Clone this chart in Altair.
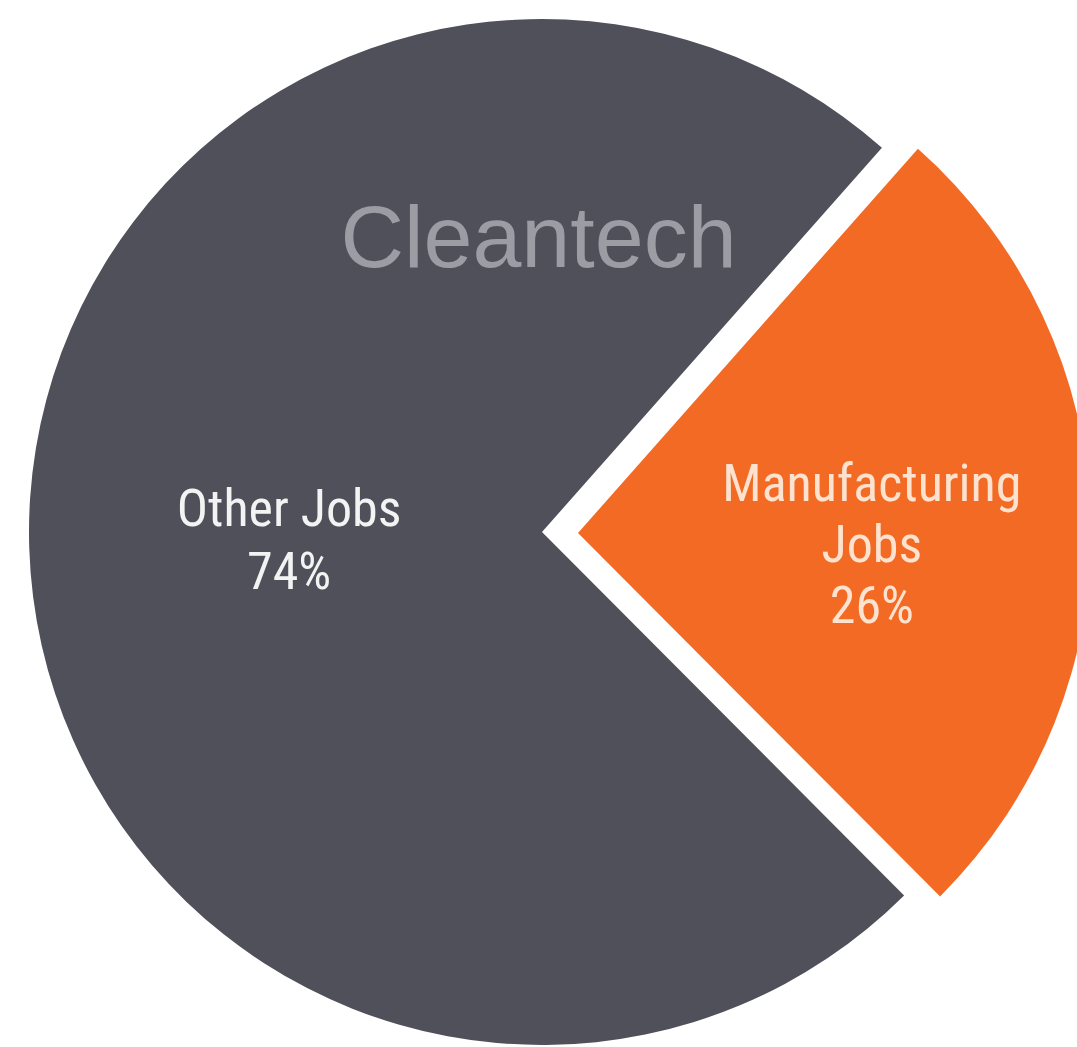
import math
import altair as alt
import pandas as pd

# ---- data ----
categories = ["Manufacturing Jobs", "Other Jobs"]
shares = [26, 74]
label_lines = ["Manufacturing\nJobs", "Other Jobs"]
slice_colors = ["#f26a24", "#4f505a"]
title_text = "Cleantech"

df = pd.DataFrame({
    "category": categories,
    "share": shares,
    "label": label_lines,
    "order": list(range(len(categories))),
})

start_angle = math.radians(41.5)
theta_scale = alt.Scale(domain=[0, 100], range=[start_angle, start_angle + 2 * math.pi])
color = alt.Color("category:N", scale=alt.Scale(domain=categories, range=slice_colors), legend=None)

base = (
    alt.Chart(df)
    .transform_window(end="sum(share)", sort=[alt.SortField("order")], frame=[None, 0])
    .transform_calculate(
        begin="datum.end - datum.share",
        mid="(datum.end - datum.share / 2)",
        text="datum.label + '\\n' + datum.share + '%'",
    )
)

other = base.transform_filter("datum.category == 'Other Jobs'")
manu = base.transform_filter("datum.category == 'Manufacturing Jobs'")

arc_enc = dict(theta=alt.Theta("begin:Q", scale=theta_scale), theta2="end:Q", color=color)

other_arc = other.mark_arc(radius=513, xOffset=3.5, yOffset=8.5).encode(**arc_enc)
manu_arc = manu.mark_arc(radius=513, xOffset=39.5, yOffset=9.5).encode(**arc_enc)

text_font = "Liberation Sans Narrow, Roboto Condensed, Roboto, sans-serif"
other_text = other.mark_text(
    radius=253, xOffset=3.5, yOffset=-21.5, font=text_font, fontSize=52,
    lineBreak="\n", lineHeight=63, color="#f3f3f3", align="center", baseline="middle",
).encode(theta=alt.Theta("mid:Q", scale=theta_scale), text="text:N")

manu_text = manu.mark_text(
    radius=294, xOffset=39.5, yOffset=-30, font=text_font, fontSize=52,
    lineBreak="\n", lineHeight=61, color="#fde3cf", align="center", baseline="middle",
).encode(theta=alt.Theta("mid:Q", scale=theta_scale), text="text:N")

chart = (
    alt.layer(other_arc, manu_arc, other_text, manu_text)
    .properties(
        width=1077,
        height=1047,
        autosize=alt.AutoSizeParams(type="none"),
        padding=0,
        background="#ffffff",
        title=alt.TitleParams(
            text=title_text,
            font="Liberation Sans, Roboto, sans-serif",
            fontSize=88,
            fontWeight="normal",
            color="#9b9ca4",
            anchor="middle",
            baseline="alphabetic",
            offset=0,
            dy=355,
        ),
    )
    .configure_view(stroke=None)
)

chart.save("out.html", embed_options={"renderer": "svg", "actions": False})
